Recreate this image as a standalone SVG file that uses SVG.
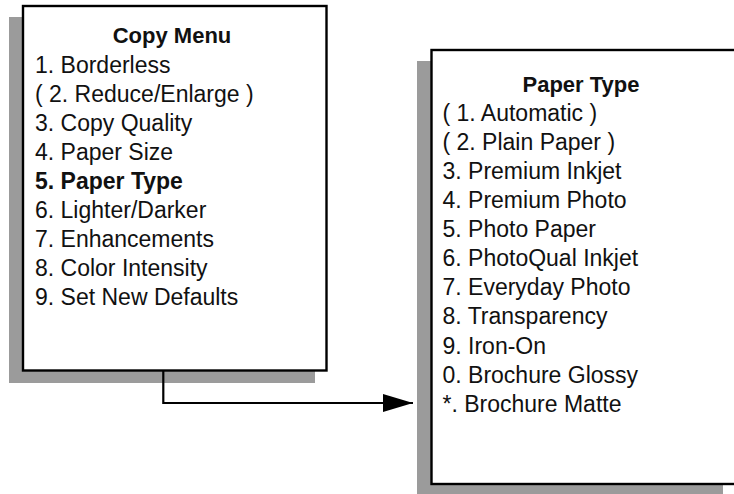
<svg xmlns="http://www.w3.org/2000/svg" width="734" height="494" viewBox="0 0 734 494">
<defs>
<style>
.shadow{fill:#9b9b9b;}
.box{fill:#fff;stroke:#000;stroke-width:2.4;}
.t{font-family:"Liberation Sans",Arial,sans-serif;font-size:23px;fill:#111;}
.b{font-weight:bold;}
.title{font-family:"Liberation Sans",Arial,sans-serif;font-size:22px;font-weight:bold;fill:#111;text-anchor:middle;}
.conn{fill:none;stroke:#000;stroke-width:2.2;}
</style>
<marker id="arrow" markerUnits="userSpaceOnUse" markerWidth="32" markerHeight="20" refX="30" refY="9" orient="auto">
<path d="M0,0 L30,9 L0,18 Z" fill="#000"/>
</marker>
</defs>
<g id="copy-menu">
<rect class="shadow" x="9" y="17" width="306" height="366"/>
<rect class="box" x="23" y="6" width="303.5" height="364.5"/>
<text class="title" x="172" y="43">Copy Menu</text>
<text class="t" x="35" y="72.7">1. Borderless</text>
<text class="t" x="35" y="101.7">( 2. Reduce/Enlarge )</text>
<text class="t" x="35" y="130.7">3. Copy Quality</text>
<text class="t" x="35" y="159.7">4. Paper Size</text>
<text class="t b" x="35" y="188.7">5. Paper Type</text>
<text class="t" x="35" y="217.7">6. Lighter/Darker</text>
<text class="t" x="35" y="246.7">7. Enhancements</text>
<text class="t" x="35" y="275.7">8. Color Intensity</text>
<text class="t" x="35" y="304.7">9. Set New Defaults</text>
</g>
<g id="paper-type">
<rect class="shadow" x="417" y="61" width="306" height="440"/>
<rect class="box" x="431.5" y="50" width="320" height="434"/>
<text class="title" x="581" y="91.7">Paper Type</text>
<text class="t" x="442.5" y="120.7">( 1. Automatic )</text>
<text class="t" x="442.5" y="149.8">( 2. Plain Paper )</text>
<text class="t" x="442.5" y="178.9">3. Premium Inkjet</text>
<text class="t" x="442.5" y="208">4. Premium Photo</text>
<text class="t" x="442.5" y="237.1">5. Photo Paper</text>
<text class="t" x="442.5" y="266.2">6. PhotoQual Inkjet</text>
<text class="t" x="442.5" y="295.3">7. Everyday Photo</text>
<text class="t" x="442.5" y="324.4">8. Transparency</text>
<text class="t" x="442.5" y="353.5">9. Iron-On</text>
<text class="t" x="442.5" y="382.6">0. Brochure Glossy</text>
<text class="t" x="442.5" y="411.7">*. Brochure Matte</text>
</g>
<g id="connectors">
<path class="conn" d="M163.3,371 V403 H413" marker-end="url(#arrow)"/>
</g>
</svg>
